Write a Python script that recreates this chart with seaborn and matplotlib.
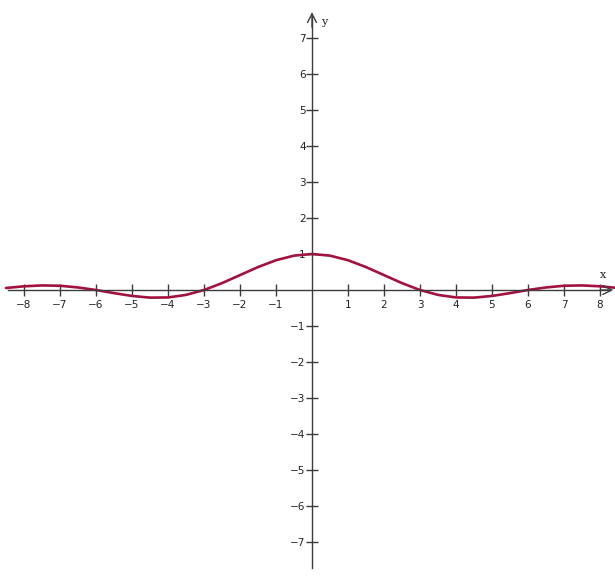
import matplotlib
matplotlib.use("Agg")
import matplotlib.pyplot as plt
import seaborn as sns
import pandas as pd

# Curve samples (x, y) of the damped oscillation
x_vals = [-8.5, -8.0, -7.5, -7.0, -6.5, -6.0, -5.5, -5.0, -4.5, -4.0, -3.5, -3.0,
          -2.5, -2.0, -1.5, -1.0, -0.5, 0.0, 0.5, 1.0, 1.5, 2.0, 2.5, 3.0,
          3.5, 4.0, 4.5, 5.0, 5.5, 6.0, 6.5, 7.0, 7.5, 8.0, 8.5]
y_vals = [0.056, 0.103, 0.127, 0.118, 0.071, 0.0, -0.087, -0.165, -0.212, -0.207,
          -0.136, 0.0, 0.191, 0.414, 0.637, 0.827, 0.955, 1.0, 0.955, 0.827,
          0.637, 0.414, 0.191, 0.0, -0.136, -0.207, -0.212, -0.165, -0.087, 0.0,
          0.071, 0.118, 0.127, 0.103, 0.056]

x_ticks = [-8, -7, -6, -5, -4, -3, -2, -1, 1, 2, 3, 4, 5, 6, 7, 8]
y_ticks = [-7, -6, -5, -4, -3, -2, -1, 1, 2, 3, 4, 5, 6, 7]

df = pd.DataFrame({"x": x_vals, "y": y_vals})

sns.set_style("white")
plt.rcParams["font.family"] = ["DejaVu Sans"]

fig = plt.figure(figsize=(6.15, 5.79), dpi=100)
ax = fig.add_axes([0, 0, 1, 1])

axis_color = "#3c3c3c"
curve_color = "#a3123f"

sns.lineplot(data=df, x="x", y="y", ax=ax, color=curve_color, linewidth=1.9,
             sort=False, estimator=None)

ax.set_xlim(-8.667, 8.417)
ax.set_ylim(-8.028, 8.056)

# Axes through the origin
for side in ["top", "right"]:
    ax.spines[side].set_visible(False)
ax.spines["left"].set_position(("data", 0))
ax.spines["bottom"].set_position(("data", 0))
ax.spines["left"].set_bounds(-7.72, 7.6)
ax.spines["bottom"].set_bounds(-8.44, 8.25)
for side in ["left", "bottom"]:
    ax.spines[side].set_color(axis_color)
    ax.spines[side].set_linewidth(1.0)

ax.annotate("", xy=(8.37, 0), xytext=(8.0, 0),
            arrowprops=dict(arrowstyle="->", color=axis_color, lw=1.0,
                            mutation_scale=16, shrinkA=0, shrinkB=0))
ax.annotate("", xy=(0, 7.72), xytext=(0, 7.3),
            arrowprops=dict(arrowstyle="->", color=axis_color, lw=1.0,
                            mutation_scale=16, shrinkA=0, shrinkB=0))

ax.set_xticks(x_ticks)
ax.set_yticks(y_ticks)
ax.set_xticklabels([f"{t}".replace("-", "\u2212") for t in x_ticks])
ax.set_yticklabels([f"{t}".replace("-", "\u2212") for t in y_ticks])
ax.tick_params(axis="both", direction="inout", length=9, width=1.0,
               color=axis_color, labelsize=7.5, labelcolor="#222222",
               bottom=True, left=True)
ax.tick_params(axis="x", pad=2.5)
ax.tick_params(axis="y", pad=0)
ax.set_xlabel("")
ax.set_ylabel("")

ax.text(8.0, 0.42, "x", fontsize=8, color="#222222", ha="left", va="center",
        fontfamily="serif")
ax.text(0.25, 7.45, "y", fontsize=8, color="#222222", ha="left", va="center",
        fontfamily="serif")

fig.savefig("out.png", dpi=100, facecolor="white")
